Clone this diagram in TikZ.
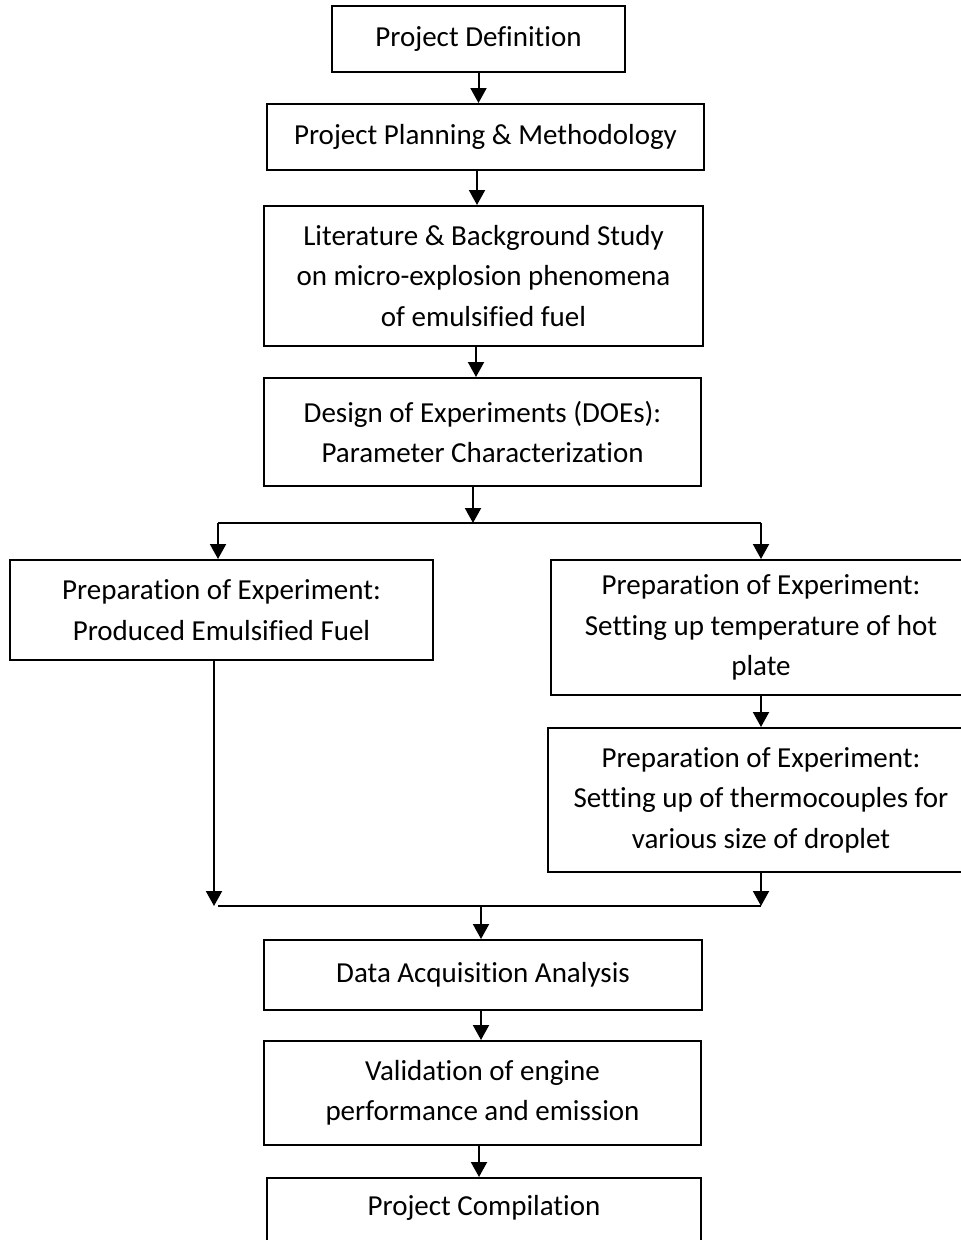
\documentclass[tikz,border=0pt]{standalone}
\usepackage{fontspec}
\setmainfont{Carlito}[Ligatures={NoCommon}]
\usetikzlibrary{arrows.meta}
\begin{document}
\begin{tikzpicture}[x=1pt,y=-1pt,
  box/.style={draw, line width=2pt, align=center, inner sep=0pt, font=\fontsize{29}{40.5}\selectfont},
  conn/.style={line width=2pt},
  arr/.style={conn, -{Triangle[width=16pt,length=15pt]}}]
\useasboundingbox (0,0) rectangle (961,1240);
\clip (0,0) rectangle (961,1240);
\node[box, minimum width=293pt, minimum height=66pt] (b1) at (478.5,39) {Project Definition};
\node[box, minimum width=437pt, minimum height=66pt] (b2) at (485.5,137) {Project Planning \& Methodology};
\node[box, minimum width=439pt, minimum height=140pt] (b3) at (483.5,276) {Literature \& Background Study\\on micro-explosion phenomena\\of emulsified fuel};
\node[box, minimum width=437pt, minimum height=108pt] (b4) at (482.5,432) {Design of Experiments (DOEs):\\Parameter Characterization};
\node[box, minimum width=423pt, minimum height=100pt] (b5) at (221.5,610) {Preparation of Experiment:\\Produced Emulsified Fuel};
\node[box, minimum width=420pt, minimum height=135pt] (b6) at (761,627.5) {Preparation of Experiment:\\Setting up temperature of hot\\plate};
\node[box, minimum width=426pt, minimum height=144pt] (b7) at (761,800) {Preparation of Experiment:\\Setting up of thermocouples for\\various size of droplet};
\node[box, minimum width=438pt, minimum height=70pt] (b8) at (483,975) {Data Acquisition Analysis};
\node[box, minimum width=437pt, minimum height=104pt] (b9) at (482.5,1093) {Validation of engine\\performance and emission};
\node[box, minimum width=434pt, minimum height=80pt, text height=20pt, text depth=26pt] (b10) at (484,1218) {Project Compilation};

\draw[arr] (b1.south) -- (b1.south |- b2.north);
\draw[arr] ([xshift=-8.5pt]b2.south) -- ([xshift=-8.5pt]b2.south |- b3.north);
\draw[arr] ([xshift=-7.5pt]b3.south) -- ([xshift=-7.5pt]b3.south |- b4.north);

\coordinate (j1) at (473,523);
\coordinate (j1l) at (218,523);
\coordinate (j1r) at (761,523);
\draw[arr] ([xshift=-9.5pt]b4.south) -- (j1);
\draw[conn] (j1l) -- (j1r);
\draw[arr] (j1l) -- (j1l |- b5.north);
\draw[arr] (j1r) -- (b6.north);
\draw[arr] (b6.south) -- (b7.north);

\coordinate (j2l) at (214,906);
\coordinate (j2r) at (761,906);
\coordinate (j2) at (481,906);
\draw[arr] (j2l |- b5.south) -- (j2l);
\draw[arr] (b7.south) -- (j2r);
\draw[conn] ([xshift=4pt]j2l) -- (j2r);
\draw[arr] (j2) -- (j2 |- b8.north);
\draw[arr] ([xshift=-2pt]b8.south) -- ([xshift=-2pt]b8.south |- b9.north);
\draw[arr] ([xshift=-3.5pt]b9.south) -- ([xshift=-3.5pt]b9.south |- b10.north);
\end{tikzpicture}
\end{document}
